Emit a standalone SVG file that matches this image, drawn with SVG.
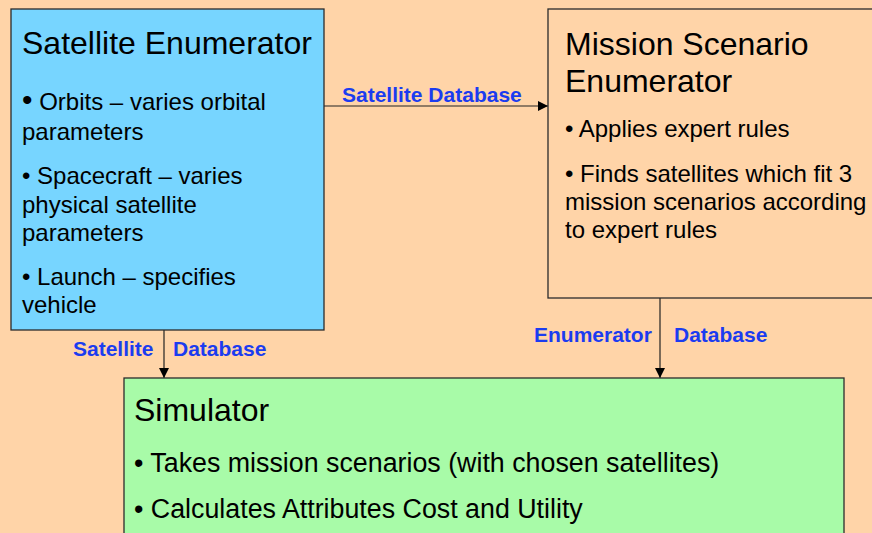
<svg xmlns="http://www.w3.org/2000/svg" width="872" height="533" viewBox="0 0 872 533">
<defs>
<style>
.box{stroke:#2b2b2b;stroke-width:1.3}
.t{font-family:"Liberation Sans",Arial,sans-serif;fill:#000}
.h{font-size:32px}
.b{font-size:24px}
.s{font-size:26.8px}
.lbl{font-family:"Liberation Sans",Arial,sans-serif;font-weight:bold;font-size:21px;fill:#1b3cf0}
.edge{stroke:#222;stroke-width:1.2;fill:none}
</style>
<marker id="arr" markerWidth="10" markerHeight="10" refX="10" refY="5" orient="auto" markerUnits="userSpaceOnUse">
<path d="M0,0 L10,5 L0,10 Z" fill="#000"/>
</marker>
</defs>
<rect x="0" y="0" width="872" height="533" fill="#FFD4A8"/>
<g id="connectors">
<line class="edge" x1="324" y1="106" x2="548" y2="106" marker-end="url(#arr)"/>
<line class="edge" x1="164" y1="330" x2="164" y2="378" marker-end="url(#arr)"/>
<line class="edge" x1="660" y1="298" x2="660" y2="378" marker-end="url(#arr)"/>
<text class="lbl" x="342" y="102">Satellite Database</text>
<text class="lbl" x="73" y="356">Satellite</text>
<text class="lbl" x="173" y="356">Database</text>
<text class="lbl" x="534" y="342">Enumerator</text>
<text class="lbl" x="674" y="342">Database</text>
</g>
<g id="satellite-enumerator">
<rect class="box" x="11" y="9" width="313" height="321" fill="#77D5FF"/>
<text class="t h" x="22" y="54">Satellite Enumerator</text>
<text class="t b" x="22" y="110"><tspan font-size="30">•</tspan> Orbits – varies orbital</text>
<text class="t b" x="22" y="140">parameters</text>
<text class="t b" x="22" y="184">• Spacecraft – varies</text>
<text class="t b" x="22" y="213">physical satellite</text>
<text class="t b" x="22" y="241">parameters</text>
<text class="t b" x="22" y="285">• Launch – specifies</text>
<text class="t b" x="22" y="313">vehicle</text>
</g>
<g id="mission-scenario-enumerator">
<rect class="box" x="548" y="9" width="340" height="289" fill="#FFD4A8"/>
<text class="t h" x="565" y="55">Mission Scenario</text>
<text class="t h" x="565" y="92">Enumerator</text>
<text class="t b" x="565" y="137">• Applies expert rules</text>
<text class="t b" x="565" y="182">• Finds satellites which fit 3</text>
<text class="t b" x="565" y="210">mission scenarios according</text>
<text class="t b" x="565" y="238">to expert rules</text>
</g>
<g id="simulator">
<rect class="box" x="124" y="378" width="720" height="170" fill="#A8FBA8"/>
<text class="t h" x="134" y="421">Simulator</text>
<text class="t s" x="134" y="472">• Takes mission scenarios (with chosen satellites)</text>
<text class="t s" x="134" y="518">• Calculates Attributes Cost and Utility</text>
</g>
</svg>
